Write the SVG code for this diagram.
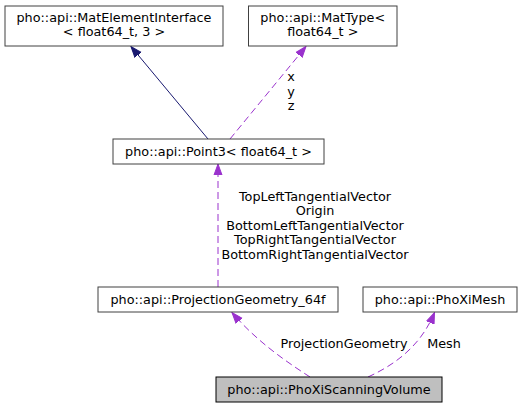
<svg xmlns="http://www.w3.org/2000/svg" width="523" height="408" viewBox="0 0 523 408">
<style>
text{font-family:"DejaVu Sans",sans-serif;font-size:12.8px;fill:#000;text-anchor:middle}
.box{fill:#fff;stroke:#404040;stroke-width:1}
.cur{fill:#bfbfbf;stroke:#000;stroke-width:1}
.inh{fill:none;stroke:#191970;stroke-width:1}
.use{fill:none;stroke:#9a32cd;stroke-width:1;stroke-dasharray:7,4}
</style>
<defs>
<marker id="ah-blue" markerUnits="userSpaceOnUse" markerWidth="12" markerHeight="10" viewBox="0 0 12 10" refX="11" refY="5" orient="auto">
<path d="M0,1 L11,5 L0,9 Z" fill="#191970" stroke="#191970"/>
</marker>
<marker id="ah-purple" markerUnits="userSpaceOnUse" markerWidth="12" markerHeight="10" viewBox="0 0 12 10" refX="11" refY="5" orient="auto">
<path d="M0,1 L11,5 L0,9 Z" fill="#9a32cd" stroke="#9a32cd"/>
</marker>
</defs>
<g id="connectors">
<path class="inh" d="M208,139 L131,46.5" marker-end="url(#ah-blue)"/>
<path class="use" d="M230,139 L306,46.5" marker-end="url(#ah-purple)"/>
<text x="291" y="81">x</text>
<text x="291" y="95.5">y</text>
<text x="291" y="110">z</text>
<path class="use" d="M218,287 L218,164" marker-end="url(#ah-purple)"/>
<text x="315" y="200.5">TopLeftTangentialVector</text>
<text x="315" y="215">Origin</text>
<text x="315" y="229.5">BottomLeftTangentialVector</text>
<text x="315" y="244">TopRightTangentialVector</text>
<text x="315" y="258.5">BottomRightTangentialVector</text>
<path class="use" d="M310,377 C290,364 258,343 232,312.5" marker-end="url(#ah-purple)"/>
<text x="344" y="347.5">ProjectionGeometry</text>
<path class="use" d="M368,377 C392,366 420,348 434.5,312.5" marker-end="url(#ah-purple)"/>
<text x="444" y="347.5">Mesh</text>
</g>
<g id="node-matelement">
<rect class="box" x="5" y="6" width="218" height="40"/>
<text x="114" y="21.5">pho::api::MatElementInterface</text>
<text x="114" y="36">&lt; float64_t, 3 &gt;</text>
</g>
<g id="node-mattype">
<rect class="box" x="248.5" y="6" width="148.5" height="40"/>
<text x="322.75" y="21.5">pho::api::MatType&lt;</text>
<text x="322.75" y="36">float64_t &gt;</text>
</g>
<g id="node-point3">
<rect class="box" x="113" y="139" width="211" height="25"/>
<text x="218.5" y="156">pho::api::Point3&lt; float64_t &gt;</text>
</g>
<g id="node-projgeom">
<rect class="box" x="98" y="287" width="240" height="25"/>
<text x="218" y="304">pho::api::ProjectionGeometry_64f</text>
</g>
<g id="node-mesh">
<rect class="box" x="363" y="287" width="154" height="25"/>
<text x="440" y="304">pho::api::PhoXiMesh</text>
</g>
<g id="node-scanvol">
<rect class="cur" x="216" y="377" width="226" height="25"/>
<text x="329" y="394">pho::api::PhoXiScanningVolume</text>
</g>
</svg>
